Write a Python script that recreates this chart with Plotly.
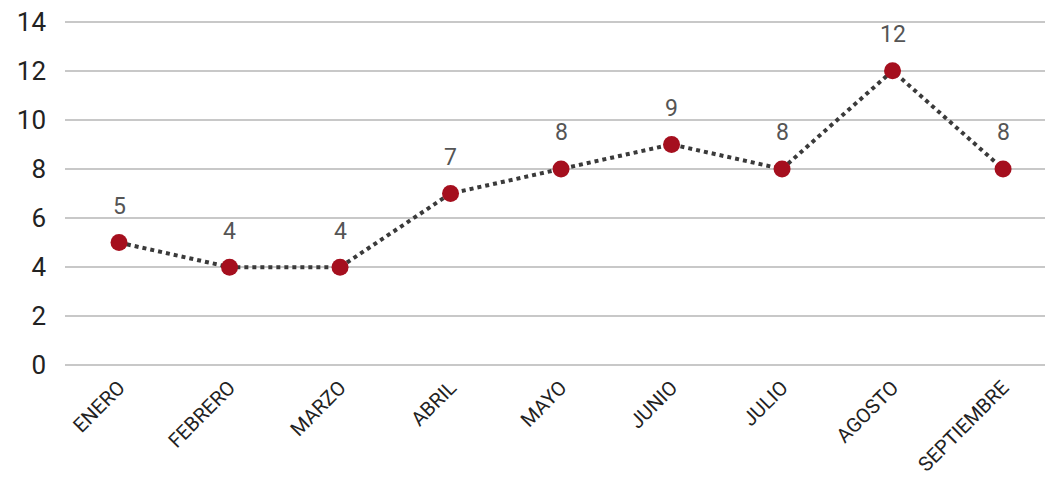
import plotly.graph_objects as go

months = ["ENERO", "FEBRERO", "MARZO", "ABRIL", "MAYO", "JUNIO", "JULIO", "AGOSTO", "SEPTIEMBRE"]
values = [5, 4, 4, 7, 8, 9, 8, 12, 8]
y_ticks = [0, 2, 4, 6, 8, 10, 12, 14]

fig = go.Figure()
fig.add_trace(go.Scatter(
    x=months, y=values, mode="lines+markers",
    line=dict(color="#3a3a3a", width=4, dash="dot"),
    marker=dict(color="#a50f1e", size=17),
    showlegend=False, cliponaxis=False,
))
for m, v in zip(months, values):
    fig.add_annotation(x=m, y=v, text=str(v), showarrow=False, yshift=36,
                       font=dict(family="Roboto", size=23, color="#555555"))

fig.update_layout(
    width=1045, height=470,
    margin=dict(l=57, r=0, t=10, b=109, autoexpand=False),
    plot_bgcolor="white", paper_bgcolor="white",
    font=dict(family="Roboto", color="#222222"),
)
fig.update_yaxes(range=[-0.15, 14.15], tickvals=y_ticks, showgrid=True, gridcolor="#c8c8c8",
                 gridwidth=2, zeroline=False, showline=False, automargin=False,
                 ticklabeloverflow="allow",
                 tickfont=dict(size=26, color="#222222"), ticklabelstandoff=18)
fig.update_xaxes(tickangle=-45, showgrid=False, showline=False, zeroline=False, automargin=False,
                 range=[-0.489, 8.452], ticklabeloverflow="allow",
                 tickfont=dict(size=20, color="#222222"), ticklabelstandoff=2)
fig.write_html("out.html")
